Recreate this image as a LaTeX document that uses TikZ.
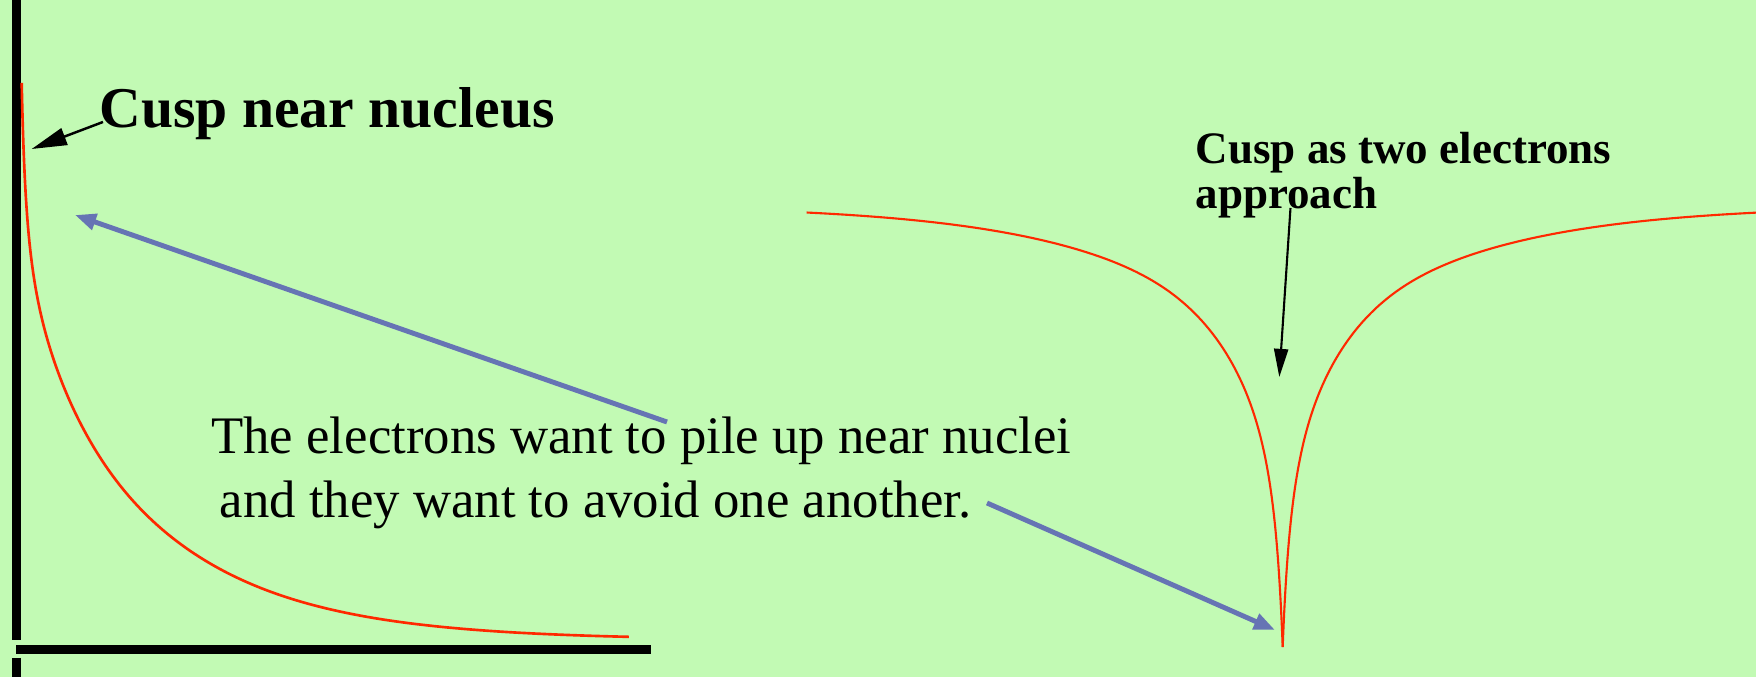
\documentclass[tikz,border=0pt]{standalone}
\usepackage{fontspec}
\setmainfont{Liberation Serif}
\usetikzlibrary{arrows.meta, positioning}

\definecolor{bgGreen}{RGB}{194,250,180}
\definecolor{curveRed}{RGB}{255,40,0}
\definecolor{hintBlue}{RGB}{102,116,180}

\begin{document}
\begin{tikzpicture}[
  x=0.01cm, y=-0.01cm,
  axis/.style={line width=2.5pt, black},
  curve/.style={curveRed, line width=0.75pt, line join=round},
  pointer/.style={black, line width=0.7pt, -{Triangle[length=10pt, width=5pt]}},
  hint/.style={hintBlue, line width=1.4pt, -{Triangle[length=6pt, width=4.6pt]}},
  bignote/.style={inner sep=0pt, font=\fontsize{16.4}{19}\selectfont\bfseries},
  note/.style={inner sep=0pt, align=left, font=\fontsize{12.8}{12.8}\selectfont\bfseries},
  bodytext/.style={inner sep=0pt, align=left, font=\fontsize{15}{18.2}\selectfont}
]

\fill[bgGreen] (0,0) rectangle (1756,677);
\useasboundingbox (0,0) rectangle (1756,677);

% Axes
\draw[axis] (16.5,0) -- (16.5,640);
\draw[axis] (16.5,658) -- (16.5,677);
\draw[axis] (16,649.5) -- (651,649.5);

% Density near the nucleus
\draw[curve] plot[domain=0:24.64, samples=160, variable=\u]
  ({21.7+\u*\u},
   {640 - 321*exp(-0.00762*\u*\u) - 1251/(\u*\u+5.3)*exp(-(\u*\u/80)^2)});

% Pair function, left and right branch
\foreach \side in {-1,1}
  \draw[curve, line width=0.6pt] plot[domain=0:21.82, samples=140, variable=\u]
    ({1282.7+\side*\u*\u},
     {205 + 170*exp(-0.00654*\u*\u) + 2965/(\u*\u+10.9)*exp(-(\u*\u/95)^2)});

% Labels
\node[bignote, anchor=base west] (cuspNuc) at (99,128) {Cusp near nucleus};
\node[note, anchor=base west] (cuspPair) at (1195,208.3) {Cusp as two electrons\\approach};
\node[bodytext, anchor=base west] (mainText) at (210.6,517.3)
  {The electrons want to pile up near nuclei\\\hspace*{2.4pt}and they want to avoid one another.};

% Arrow ends
\coordinate (nucTip) at (31.7,149);
\coordinate (pairTail) at (1290.5,208);
\coordinate (pairTip) at (1279.3,377);
\coordinate (pileTail) at (667,422);
\coordinate (pileTip) at (75,215);
\coordinate (avoidTail) at (987,503);
\coordinate (avoidTip) at (1275,630);

% Black pointers
\draw[pointer] ([shift={(4,-6)}]cuspNuc.base west) -- (nucTip);
\draw[pointer, line width=0.6pt, -{Triangle[length=8pt, width=4pt]}] (pairTail) -- (pairTip);

% Blue pointers
\draw[hint] (pileTail) -- (pileTip);
\draw[hint] (avoidTail) -- (avoidTip);

\end{tikzpicture}
\end{document}
